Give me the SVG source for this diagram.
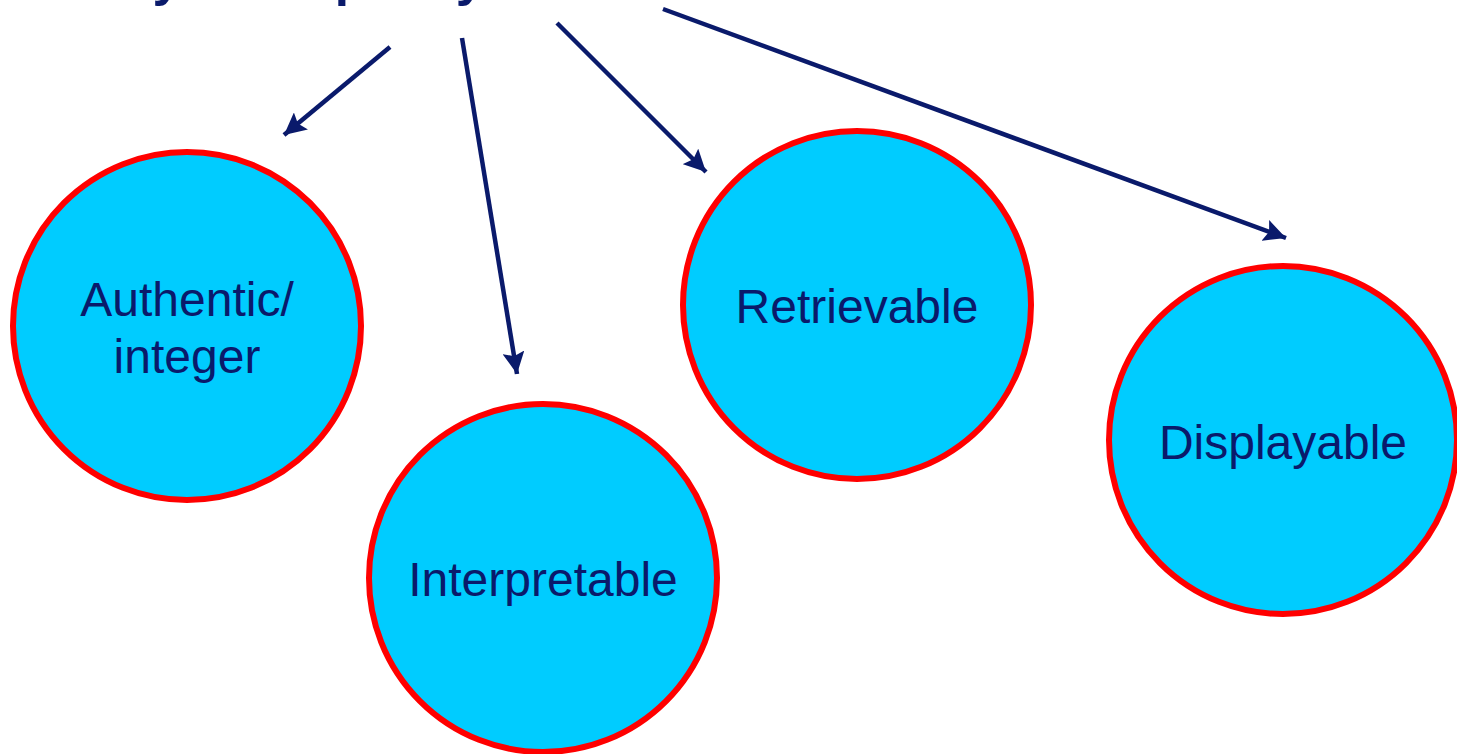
<svg xmlns="http://www.w3.org/2000/svg" width="1457" height="754" viewBox="0 0 1457 754">
  <style>
    .title { font-family: "Liberation Sans", Arial, sans-serif; font-weight: bold; font-size: 52px; fill: #0A1A6B; }
    .node circle { fill: #00CCFF; stroke: #FF0000; stroke-width: 6; }
    .node text { font-family: "Liberation Sans", Arial, sans-serif; font-size: 48px; fill: #0A1A6B; text-anchor: middle; }
    .edge { stroke: #0A1A6B; stroke-width: 4.5; fill: none; marker-end: url(#arrow); }
  </style>
  <defs>
    <marker id="arrow" markerUnits="userSpaceOnUse" markerWidth="24" markerHeight="22" refX="22" refY="11" orient="auto">
      <path d="M0,0 L22,11 L0,22 L4,11 Z" fill="#0A1A6B"/>
    </marker>
  </defs>
  <rect width="1457" height="754" fill="#FFFFFF"/>

  <!-- heading, mostly above the top edge -->
  <text class="title" x="86" y="-5">Key data quality</text>

  <g id="connectors">
    <line class="edge" x1="390" y1="47" x2="284" y2="135"/>
    <line class="edge" x1="462" y1="38" x2="517" y2="374"/>
    <line class="edge" x1="557" y1="23" x2="706" y2="172"/>
    <line class="edge" x1="663" y1="9" x2="1286" y2="238"/>
  </g>

  <g id="node-authentic" class="node">
    <circle cx="187" cy="326" r="174"/>
    <text x="187" y="316">Authentic/</text>
    <text x="187" y="373">integer</text>
  </g>

  <g id="node-interpretable" class="node">
    <circle cx="543" cy="578" r="174"/>
    <text x="543" y="596">Interpretable</text>
  </g>

  <g id="node-retrievable" class="node">
    <circle cx="857" cy="305" r="174"/>
    <text x="857" y="323">Retrievable</text>
  </g>

  <g id="node-displayable" class="node">
    <circle cx="1283" cy="440" r="174"/>
    <text x="1283" y="459">Displayable</text>
  </g>
</svg>
